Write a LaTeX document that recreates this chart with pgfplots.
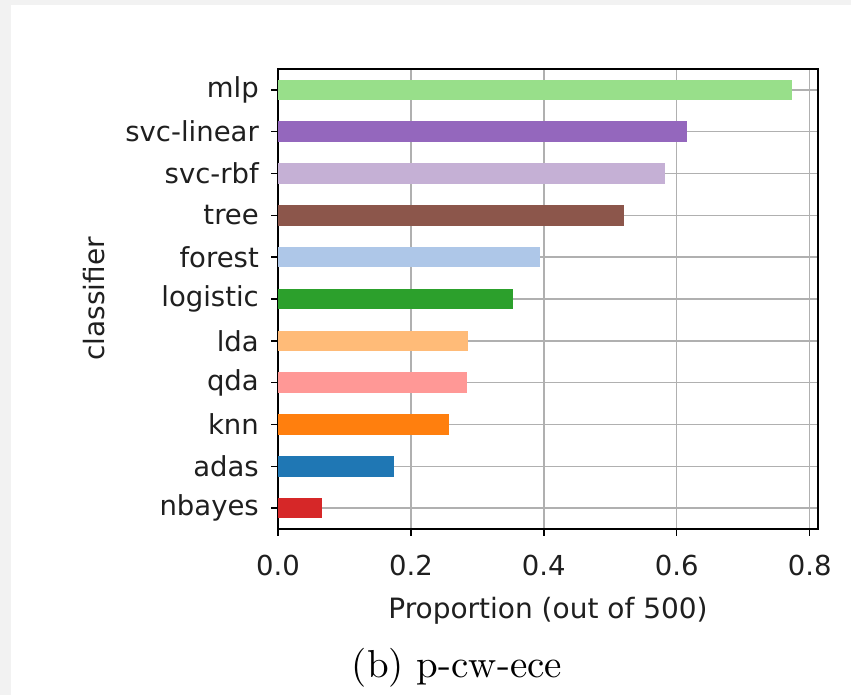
\documentclass[border=0pt]{standalone}
\usepackage{pgfplots}
\pgfplotsset{compat=1.18}
\usepackage{fontspec}
\newfontfamily\dejavu{DejaVu Sans}
\newfontfamily\capfont{lmroman10-regular}[Extension=.otf]
\definecolor{bggray}{HTML}{F2F2F2}
\definecolor{gridgray}{HTML}{B0B0B0}
\definecolor{cmlp}{HTML}{98DF8A}
\definecolor{csvclin}{HTML}{9467BD}
\definecolor{csvcrbf}{HTML}{C5B0D5}
\definecolor{ctree}{HTML}{8C564B}
\definecolor{cforest}{HTML}{AEC7E8}
\definecolor{clogistic}{HTML}{2CA02C}
\definecolor{clda}{HTML}{FFBB78}
\definecolor{cqda}{HTML}{FF9896}
\definecolor{cknn}{HTML}{FF7F0E}
\definecolor{cadas}{HTML}{1F77B4}
\definecolor{cnbayes}{HTML}{D62728}
\begin{document}
\begin{tikzpicture}[x=1pt,y=1pt]
\fill[bggray] (0,0) rectangle (851,695);
\fill[white] (11,0) rectangle (851,690);
\begin{axis}[
  at={(278pt,166pt)}, anchor=south west,
  width=540pt, height=460pt, scale only axis,
  xbar, bar width=20.5pt, bar shift=0pt,
  xmin=0, xmax=0.8126, ymin=-0.5, ymax=10.5,
  xtick={0,0.2,0.4,0.6,0.8},
  xticklabels={0.0,0.2,0.4,0.6,0.8},
  ytick={0,1,2,3,4,5,6,7,8,9,10},
  yticklabels={nbayes,adas,knn,qda,lda,logistic,forest,tree,svc-rbf,svc-linear,mlp},
  tick align=outside, major tick length=7pt,
  xtick pos=bottom, ytick pos=left,
  tick style={black, line width=1.5pt},
  axis line style={black, line width=1.6pt},
  grid=major,
  major grid style={gridgray, line width=1.5pt},
  ticklabel style={font=\dejavu\fontsize{27.5}{27.5}\selectfont, text=black!88},
  yticklabel style={anchor=east, inner sep=0pt, xshift=-12pt},
  xticklabel style={anchor=base, inner sep=0pt, yshift=-40pt},
  xlabel={Proportion (out of 500)},
  ylabel={classifier},
  label style={font=\dejavu\fontsize{28}{28}\selectfont, text=black!88},
  xlabel style={at={(axis description cs:0.5,-0.1935)}, anchor=base},
  ylabel style={at={(axis description cs:-0.3204,0.5)}, anchor=base},
]
\addplot[fill=cnbayes, draw=none] coordinates {(0.066,0)};
\addplot[fill=cadas, draw=none] coordinates {(0.174,1)};
\addplot[fill=cknn, draw=none] coordinates {(0.258,2)};
\addplot[fill=cqda, draw=none] coordinates {(0.284,3)};
\addplot[fill=clda, draw=none] coordinates {(0.286,4)};
\addplot[fill=clogistic, draw=none] coordinates {(0.354,5)};
\addplot[fill=cforest, draw=none] coordinates {(0.394,6)};
\addplot[fill=ctree, draw=none] coordinates {(0.520,7)};
\addplot[fill=csvcrbf, draw=none] coordinates {(0.582,8)};
\addplot[fill=csvclin, draw=none] coordinates {(0.616,9)};
\addplot[fill=cmlp, draw=none] coordinates {(0.774,10)};
\end{axis}
\node[anchor=base, font=\capfont\fontsize{39}{39}\selectfont, inner sep=0pt] at (457,17) {(b) p-cw-ece};
\end{tikzpicture}
\end{document}
